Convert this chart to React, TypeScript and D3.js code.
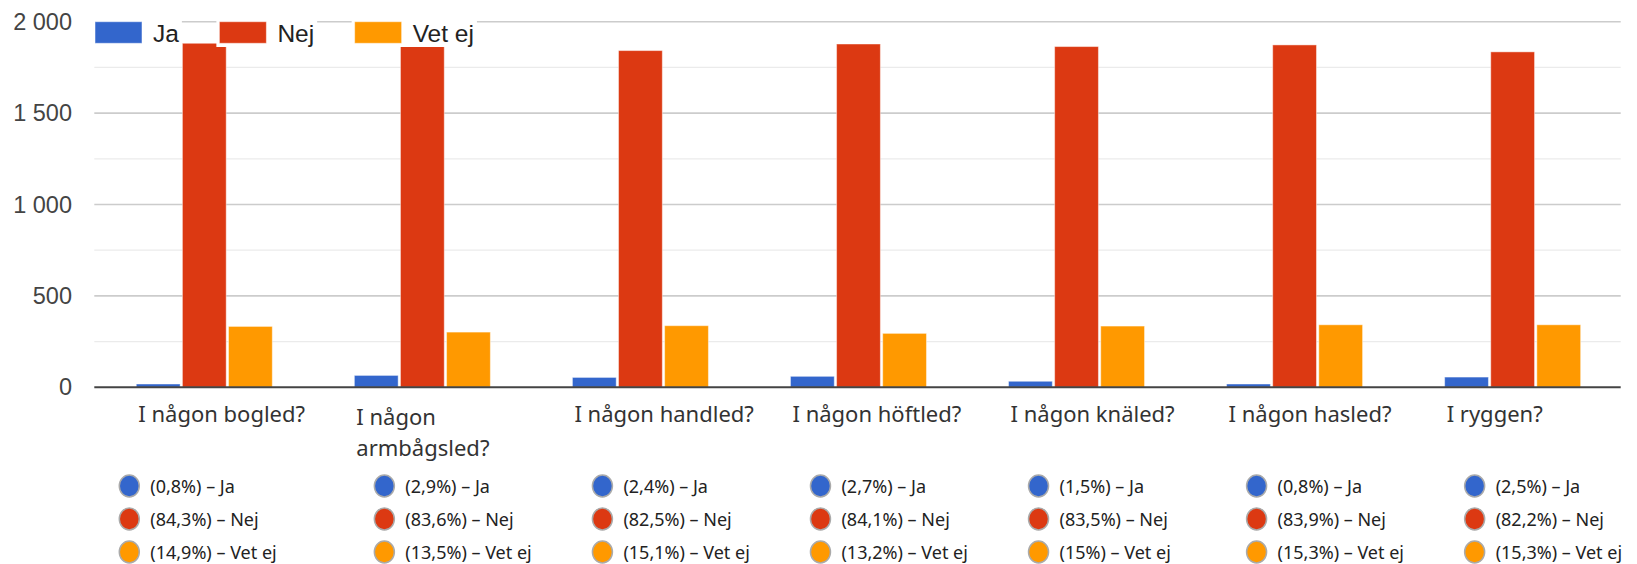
import React from "react";
import * as d3 from "d3";

const categories = [
  "I någon bogled?",
  "I någon armbågsled?",
  "I någon handled?",
  "I någon höftled?",
  "I någon knäled?",
  "I någon hasled?",
  "I ryggen?",
];
const seriesNames = ["Ja", "Nej", "Vet ej"];
const jaValues = [18, 65, 54, 60, 33, 18, 56];
const nejValues = [1882, 1867, 1842, 1878, 1864, 1873, 1835];
const vetEjValues = [333, 302, 337, 295, 335, 342, 342];
const jaPct = ["0,8%", "2,9%", "2,4%", "2,7%", "1,5%", "0,8%", "2,5%"];
const nejPct = ["84,3%", "83,6%", "82,5%", "84,1%", "83,5%", "83,9%", "82,2%"];
const vetEjPct = ["14,9%", "13,5%", "15,1%", "13,2%", "15%", "15,3%", "15,3%"];
const yTicks = [0, 500, 1000, 1500, 2000];
const yMinorTicks = [250, 750, 1250, 1750];
const colors = ["#3366cc", "#dc3912", "#ff9900"];

const W = 1637;
const H = 564;
const plotLeft = 94.3;
const plotRight = 1620.7;
const plotTop = 21.7;
const plotBottom = 387.3;

const locale = d3.formatLocale({
  decimal: ",",
  thousands: "\u00a0",
  grouping: [3],
  currency: ["", " kr"],
});
const fmt = locale.format(",");

let ctx: CanvasRenderingContext2D | null = null;
function measure(text: string, font: string): number {
  if (!ctx) ctx = document.createElement("canvas").getContext("2d");
  if (!ctx) return text.length * 10;
  ctx.font = font;
  return ctx.measureText(text).width;
}

function wrap(text: string, font: string, maxW: number): string[] {
  const words = text.split(" ");
  const lines: string[] = [];
  let cur = "";
  for (const w of words) {
    const t = cur ? cur + " " + w : w;
    if (measure(t, font) > maxW && cur) {
      lines.push(cur);
      cur = w;
    } else cur = t;
  }
  if (cur) lines.push(cur);
  return lines;
}

export default function App() {
  const allValues = [jaValues, nejValues, vetEjValues];
  const allPct = [jaPct, nejPct, vetEjPct];
  const y = d3.scaleLinear().domain([0, 2000]).range([plotBottom, plotTop]);
  const x0 = d3.scaleBand<string>().domain(categories).range([plotLeft, plotRight]).padding(0);
  const x1 = d3.scaleBand<string>().domain(seriesNames).range([42, 178]).paddingInner(0.05);

  const labelFont = "22px 'Noto Sans'";
  const legendFont = "24.5px 'Liberation Sans'";

  // top legend layout
  let lx = 95;
  const topLegend = seriesNames.map((s, i) => {
    const item = { s, i, x: lx, w: measure(s, legendFont) };
    lx += 47 + 11 + item.w + 40.5;
    return item;
  });

  return (
    <svg
      width={W}
      height={H}
      style={{ position: "fixed", left: 0, top: 0, background: "#fff" }}
    >
      {yMinorTicks.map((t) => (
        <line key={"m" + t} x1={plotLeft} x2={plotRight} y1={y(t)} y2={y(t)} stroke="#ebebeb" strokeWidth={1.2} />
      ))}
      {yTicks.map((t) =>
        t === 0 ? null : (
          <line key={"g" + t} x1={plotLeft} x2={plotRight} y1={y(t)} y2={y(t)} stroke="#cccccc" strokeWidth={1.6} />
        )
      )}
      {yTicks.map((t) => (
        <text
          key={"t" + t}
          x={72}
          y={y(t)}
          textAnchor="end"
          dominantBaseline="central"
          fontFamily="'Liberation Sans', Arial, sans-serif"
          fontSize={23.5}
          fill="#444"
        >
          {fmt(t)}
        </text>
      ))}
      {categories.map((c, ci) => (
        <g key={c} transform={`translate(${x0(c)},0)`}>
          {seriesNames.map((s, si) => {
            const v = allValues[si][ci];
            return (
              <rect
                key={s}
                x={x1(s)}
                y={y(v)}
                width={x1.bandwidth()}
                height={y(0) - y(v)}
                fill={colors[si]}
                stroke="rgba(255,255,255,0.45)"
                strokeWidth={1}
              />
            );
          })}
        </g>
      ))}
      <line x1={plotLeft} x2={plotRight} y1={plotBottom} y2={plotBottom} stroke="#444" strokeWidth={2} />
      {categories.map((c) => {
        const lines = wrap(c, labelFont, 190);
        const xs = (x0(c) as number) + (x1(seriesNames[0]) as number) + 2;
        return (
          <text
            key={"l" + c}
            x={xs}
            y={lines.length > 1 ? 424.5 : 422}
            fontFamily="'Noto Sans', sans-serif"
            fontSize={22}
            fill="#333"
          >
            {lines.map((ln, li) => (
              <tspan key={li} x={xs} dy={li === 0 ? 0 : 31.5}>
                {ln}
              </tspan>
            ))}
          </text>
        );
      })}
      {topLegend.map(({ s, i, x, w }) => (
        <g key={"tl" + s}>
          <rect x={x - 3} y={19} width={47 + 11 + w + 6} height={28} fill="#fff" />
          <rect x={x} y={21.7} width={47} height={21.6} fill={colors[i]} stroke="rgba(255,255,255,0.5)" />
          <text
            x={x + 58}
            y={33}
            dominantBaseline="central"
            fontFamily="'Liberation Sans', Arial, sans-serif"
            fontSize={24.5}
            fill="#222"
          >
            {s}
          </text>
        </g>
      ))}
      {categories.map((c, ci) => {
        const cx = ci === 0 ? (x0(c) as number) + 35 : (x0(c) as number) + 72;
        return (
          <g key={"bl" + c}>
            {seriesNames.map((s, si) => {
              const cy = 486 + si * 33;
              return (
                <g key={s}>
                  <ellipse cx={cx} cy={cy} rx={10} ry={11} fill={colors[si]} stroke="#aaa" strokeWidth={1.5} />
                  <text
                    x={cx + 21}
                    y={cy}
                    dominantBaseline="central"
                    fontFamily="'Noto Sans', sans-serif"
                    fontSize={18}
                    fill="#222"
                  >
                    {`(${allPct[si][ci]}) – ${s}`}
                  </text>
                </g>
              );
            })}
          </g>
        );
      })}
    </svg>
  );
}
